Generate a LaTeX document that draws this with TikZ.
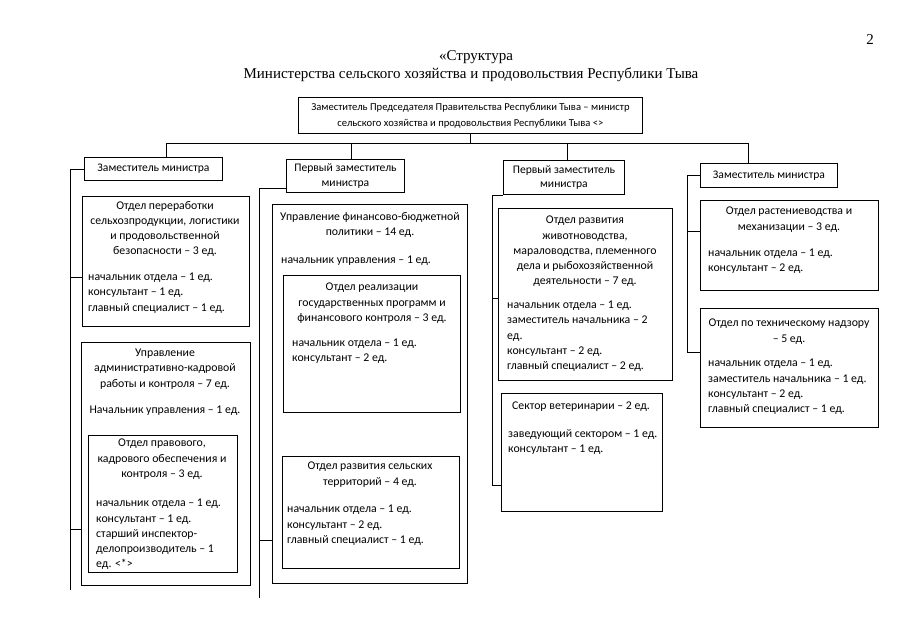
\documentclass[tikz,border=0pt]{standalone}
\usepackage{fontspec}
\setmainfont{Carlito}
\newfontfamily\titlefont{Liberation Serif}
\usetikzlibrary{positioning, calc}

\begin{document}
\begin{tikzpicture}[x=1pt, y=-1pt,
                box/.style={rectangle, draw, line width=0.9pt, anchor=north west, inner sep=0pt, align=center, font=\fontsize{11.6}{14.5}\selectfont},
                head/.style={anchor=north, align=center, inner sep=0pt, font=\fontsize{11.8}{15.2}\selectfont},
                staff/.style={anchor=north west, align=left, inner sep=0pt, font=\fontsize{11.8}{15.2}\selectfont},
                link/.style={line width=0.7pt}
            ]
                \useasboundingbox (0,0) rectangle (905,640);
                
                \node[font=\titlefont\fontsize{15}{18}\selectfont] (ttl1) at (476,57) {«Структура};
                \node[font=\titlefont\fontsize{15}{18}\selectfont] (ttl2) at (471,75) {Министерства сельского хозяйства и продовольствия Республики Тыва};
                \node[font=\titlefont\fontsize{15}{18}\selectfont] (page) at (870,40) {2};
                
                \node[box, minimum width=344pt, minimum height=36pt, font=\fontsize{10.6}{16}\selectfont] (top) at (298,97) {Заместитель Председателя Правительства Республики Тыва – министр\\сельского хозяйства и продовольствия Республики Тыва <>};
                
                \node[box, minimum width=138pt, minimum height=23pt] (h1) at (84,157) {Заместитель министра};
                \node[box, minimum width=118pt, minimum height=33pt] (h2) at (286,159) {Первый заместитель\\министра};
                \node[box, minimum width=121pt, minimum height=34pt] (h3) at (503,160) {Первый заместитель\\министра};
                \node[box, minimum width=137pt, minimum height=24pt] (h4) at (700,163) {Заместитель министра};
                
                % first column
                \node[box, minimum width=167pt, minimum height=130pt] (b11) at (82,196) {};
                \node[head] (b11h) at (165,201) {Отдел переработки\\сельхозпродукции, логистики\\и продовольственной\\безопасности – 3 ед.};
                \node[staff] (b11s) at (88,273) {начальник отдела – 1 ед.\\консультант – 1 ед.\\главный специалист – 1 ед.};
                
                \node[box, minimum width=169pt, minimum height=243pt] (b12) at (81,342) {};
                \node[head] (b12h) at (165,349) {Управление\\административно-кадровой\\работы и контроля – 7 ед.};
                \node[head] (b12s) at (165,406) {Начальник управления – 1 ед.};
                \node[box, minimum width=149pt, minimum height=137pt] (b13) at (88,435) {};
                \node[head] (b13h) at (162,439) {Отдел правового,\\кадрового обеспечения и\\контроля – 3 ед.};
                \node[staff] (b13s) at (96,499) {начальник отдела – 1 ед.\\консультант – 1 ед.\\старший инспектор-\\делопроизводитель – 1\\ед. <*>};
                
                % second column
                \node[box, minimum width=195pt, minimum height=379pt] (b21) at (272,204) {};
                \node[head] (b21h) at (370,212) {Управление финансово-бюджетной\\политики – 14 ед.};
                \node[staff] (b21s) at (281,256) {начальник управления – 1 ед.};
                \node[box, minimum width=177pt, minimum height=137pt] (b22) at (283,275) {};
                \node[head] (b22h) at (372,283) {Отдел реализации\\государственных программ и\\финансового контроля – 3 ед.};
                \node[staff] (b22s) at (292,339) {начальник отдела – 1 ед.\\консультант – 2 ед.};
                \node[box, minimum width=177pt, minimum height=112pt] (b23) at (282,456) {};
                \node[head] (b23h) at (370,462) {Отдел развития сельских\\территорий – 4 ед.};
                \node[staff] (b23s) at (287,505) {начальник отдела – 1 ед.\\консультант – 2 ед.\\главный специалист – 1 ед.};
                
                % third column
                \node[box, minimum width=174pt, minimum height=172pt] (b31) at (498,208) {};
                \node[head] (b31h) at (585,216) {Отдел развития\\животноводства,\\мараловодства, племенного\\дела и рыбохозяйственной\\деятельности – 7 ед.};
                \node[staff] (b31s) at (507,301) {начальник отдела – 1 ед.\\заместитель начальника – 2\\ед.\\консультант – 2 ед.\\главный специалист – 2 ед.};
                \node[box, minimum width=161pt, minimum height=118pt] (b32) at (501,393) {};
                \node[head] (b32h) at (581,402) {Сектор ветеринарии – 2 ед.};
                \node[staff] (b32s) at (508,429) {заведующий сектором – 1 ед.\\консультант – 1 ед.};
                
                % fourth column
                \node[box, minimum width=178pt, minimum height=90pt] (b41) at (700,200) {};
                \node[head] (b41h) at (789,207) {Отдел растениеводства и\\механизации – 3 ед.};
                \node[staff] (b41s) at (708,249) {начальник отдела – 1 ед.\\консультант – 2 ед.};
                \node[box, minimum width=178pt, minimum height=119pt] (b42) at (700,308) {};
                \node[head] (b42h) at (789,319) {Отдел по техническому надзору\\– 5 ед.};
                \node[staff] (b42s) at (708,359) {начальник отдела – 1 ед.\\заместитель начальника – 1 ед.\\консультант – 2 ед.\\главный специалист – 1 ед.};
                
                % connectors
                \coordinate (d1) at (166,143);
                \coordinate (d2) at (351,143);
                \coordinate (d3) at (567,143);
                \coordinate (d4) at (748,143);
                \draw[link] (top.south) -- (top.south |- d1);
                \draw[link] (d1) -- (d4);
                \draw[link] (d1) -- (d1 |- h1.north);
                \draw[link] (d2) -- (d2 |- h2.north);
                \draw[link] (d3) -- (d3 |- h3.north);
                \draw[link] (d4) -- (d4 |- h4.north);
                
                \coordinate (s1) at (70,590);
                \coordinate (s2) at (259,598);
                \coordinate (s3) at (492,485);
                \coordinate (s4) at (687,352);
                \draw[link] (h1.west) -| (s1);
                \draw[link] ([yshift=-16pt]b11.west) -- ++(-12,0);
                \draw[link] ([yshift=-65.5pt]b12.west) -- ++(-11,0);
                \draw[link] ($(h2.south west)+(0,-5)$) -| (s2);
                \draw[link] ([yshift=-146.5pt]b21.west) -- ++(-13,0);
                \draw[link] (h3.south west) -| (s3);
                \draw[link] ([yshift=-4pt]b31.west) -- ++(-6,0);
                \draw[link] (s3) -- (s3 -| b32.west);
                \draw[link] (h4.west) -| (s4);
                \draw[link] ([yshift=14pt]b41.west) -- ++(-13,0);
                \draw[link] (s4) -- (s4 -| b42.west);
            \end{tikzpicture}
\end{document}
